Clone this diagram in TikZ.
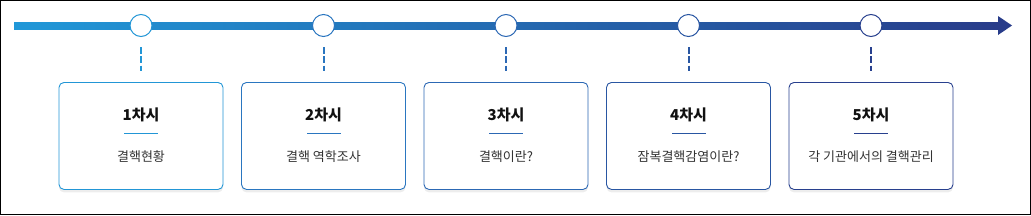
\documentclass[tikz,border=0pt]{standalone}
\usepackage{fontspec}
\newfontfamily\krfont{Noto Sans CJK KR}
\usepackage{tikz}
\usetikzlibrary{positioning, shadows, arrows.meta}
\definecolor{LineStart}{RGB}{33,152,216}
\definecolor{LineEnd}{RGB}{40,60,138}
\definecolor{StepA}{RGB}{34,150,214}
\definecolor{StepB}{RGB}{42,118,192}
\definecolor{StepC}{RGB}{44,104,180}
\definecolor{StepD}{RGB}{41,86,162}
\definecolor{StepE}{RGB}{40,64,142}
\definecolor{TitleInk}{RGB}{17,17,17}
\definecolor{BodyInk}{RGB}{51,51,51}

\begin{document}
\begin{tikzpicture}[x=1pt, y=-1pt,
    stop/.style={circle, draw=#1, line width=1pt, fill=white, minimum size=22pt, inner sep=0pt},
    card/.style={draw=#1, rounded corners=5pt, fill=white, line width=0.9pt, minimum width=164pt, minimum height=107pt,
      drop shadow={shadow xshift=0pt, shadow yshift=-3pt, opacity=0.07, fill=black}},
    link/.style={draw=#1, line width=2pt, dash pattern=on 6.5pt off 2.8pt, shorten <=10pt, shorten >=11pt},
    cardtitle/.style={font=\krfont\bfseries\fontsize{15}{17}\selectfont, text=TitleInk, inner sep=0pt},
    cardrule/.style={fill=#1, minimum width=34pt, minimum height=1pt, inner sep=0pt},
    cardtext/.style={font=\krfont\fontsize{13}{15}\selectfont, text=BodyInk, inner sep=0pt}]
  % frame and bounds
  \useasboundingbox (0,0) rectangle (1031,215);
  \draw[black, line width=1pt] (0.5,0.5) rectangle (1030.5,214.5);

  % timeline
  \coordinate (tlstart) at (14,25.5);
  \coordinate (tlend) at (998,25.5);
  \shade[left color=LineStart, right color=LineEnd] ([yshift=3.5pt]tlstart) rectangle ([yshift=-3.5pt]tlend);
  \fill[LineEnd] ([yshift=9.5pt]tlend) -- ([xshift=14pt]tlend) -- ([yshift=-9.5pt]tlend) -- cycle;

  % stops on the line
  \node[stop=StepA] (s1) at (141,25.5) {};
  \node[stop=StepB] (s2) at (323.5,25.5) {};
  \node[stop=StepC] (s3) at (506,25.5) {};
  \node[stop=StepD] (s4) at (688.5,25.5) {};
  \node[stop=StepE] (s5) at (871,25.5) {};

  % cards
  \node[card=StepA, below=45pt of s1] (b1) {};
  \node[card=StepB, below=45pt of s2] (b2) {};
  \node[card=StepC, below=45pt of s3] (b3) {};
  \node[card=StepD, below=45pt of s4] (b4) {};
  \node[card=StepE, below=45pt of s5] (b5) {};

  \draw[link=StepA] (s1) -- (b1);
  \draw[link=StepB] (s2) -- (b2);
  \draw[link=StepC] (s3) -- (b3);
  \draw[link=StepD] (s4) -- (b4);
  \draw[link=StepE] (s5) -- (b5);

  % card contents
  \node[cardtitle] (t1) at ([yshift=-33pt]b1.north) {1차시};
  \node[cardtitle] (t2) at ([yshift=-33pt]b2.north) {2차시};
  \node[cardtitle] (t3) at ([yshift=-33pt]b3.north) {3차시};
  \node[cardtitle] (t4) at ([yshift=-33pt]b4.north) {4차시};
  \node[cardtitle] (t5) at ([yshift=-33pt]b5.north) {5차시};

  \node[cardrule=StepA] (r1) at ([yshift=-51pt]b1.north) {};
  \node[cardrule=StepB] (r2) at ([yshift=-51pt]b2.north) {};
  \node[cardrule=StepC] (r3) at ([yshift=-51pt]b3.north) {};
  \node[cardrule=StepD] (r4) at ([yshift=-51pt]b4.north) {};
  \node[cardrule=StepE] (r5) at ([yshift=-51pt]b5.north) {};

  \node[cardtext] (d1) at ([yshift=-75pt]b1.north) {결핵현황};
  \node[cardtext] (d2) at ([yshift=-75pt]b2.north) {결핵 역학조사};
  \node[cardtext] (d3) at ([yshift=-75pt]b3.north) {결핵이란?};
  \node[cardtext] (d4) at ([yshift=-75pt]b4.north) {잠복결핵감염이란?};
  \node[cardtext] (d5) at ([yshift=-75pt]b5.north) {각 기관에서의 결핵관리};
\end{tikzpicture}
\end{document}
